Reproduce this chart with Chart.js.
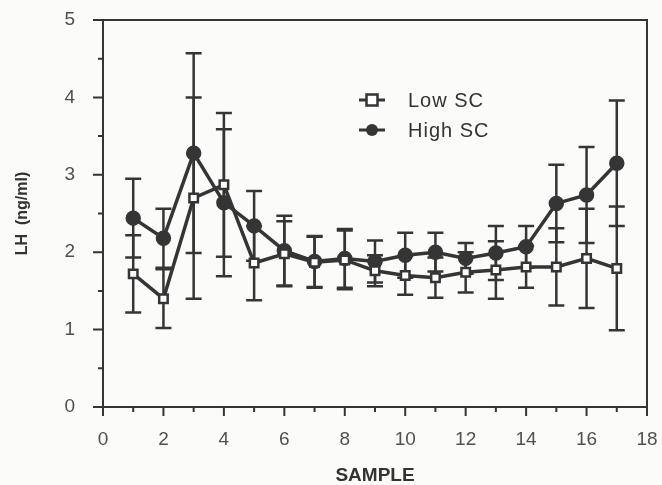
<!DOCTYPE html>
<html>
<head>
<meta charset="utf-8">
<script src="https://cdn.jsdelivr.net/npm/chart.js@4.4.1/dist/chart.umd.min.js"></script>
<style>
  html, body { margin: 0; padding: 0; background: #fbfbf9; }
  #wrap { width: 662px; height: 485px; }
</style>
</head>
<body>
<div id="wrap"><canvas id="lhChart" width="662" height="485"></canvas></div>
<script>
const samples = [1, 2, 3, 4, 5, 6, 7, 8, 9, 10, 11, 12, 13, 14, 15, 16, 17];

const lowSC = [1.72, 1.40, 2.70, 2.87, 1.86, 1.98, 1.87, 1.90, 1.76, 1.70, 1.67, 1.74, 1.77, 1.81, 1.81, 1.92, 1.79];
const lowErr = [0.50, 0.38, 1.30, 0.93, 0.48, 0.42, 0.33, 0.38, 0.20, 0.25, 0.26, 0.26, 0.37, 0.27, 0.50, 0.64, 0.80];

const highSC = [2.44, 2.18, 3.28, 2.64, 2.34, 2.02, 1.88, 1.92, 1.88, 1.96, 2.00, 1.92, 1.99, 2.07, 2.63, 2.74, 3.15];
const highErr = [0.51, 0.38, 1.29, 0.95, 0.45, 0.45, 0.33, 0.38, 0.27, 0.29, 0.25, 0.20, 0.35, 0.27, 0.50, 0.62, 0.81];

const xTicks = [0, 2, 4, 6, 8, 10, 12, 14, 16, 18];
const yTicks = [0, 1, 2, 3, 4, 5];

const ink = '#353535';
const font = "'Liberation Sans', Arial, sans-serif";

// error bars, drawn under the markers
const errorBars = {
    id: 'errorBars',
    beforeDatasetsDraw(chart) {
        const ctx = chart.ctx;
        const xs = chart.scales.x;
        const ys = chart.scales.y;
        const sets = [[lowSC, lowErr], [highSC, highErr]];
        ctx.save();
        ctx.strokeStyle = ink;
        ctx.lineWidth = 2.5;
        sets.forEach(([vals, errs]) => {
            vals.forEach((v, i) => {
                const px = xs.getPixelForValue(samples[i]);
                const top = ys.getPixelForValue(v + errs[i]);
                const bot = ys.getPixelForValue(v - errs[i]);
                ctx.beginPath();
                ctx.moveTo(px, top);
                ctx.lineTo(px, bot);
                ctx.moveTo(px - 8, top);
                ctx.lineTo(px + 8, top);
                ctx.moveTo(px - 8, bot);
                ctx.lineTo(px + 8, bot);
                ctx.stroke();
            });
        });
        ctx.restore();
    }
};

// frame, ticks and legend
const frame = {
    id: 'frame',
    afterDraw(chart) {
        const ctx = chart.ctx;
        const a = chart.chartArea;
        const xs = chart.scales.x;
        const ys = chart.scales.y;
        ctx.save();
        ctx.strokeStyle = ink;
        ctx.lineWidth = 2;
        ctx.strokeRect(a.left, a.top, a.right - a.left, a.bottom - a.top);

        ctx.beginPath();
        for (let v = 0; v <= 18; v++) {
            const px = xs.getPixelForValue(v);
            const len = v % 2 === 0 ? 9 : 5;
            ctx.moveTo(px, a.bottom);
            ctx.lineTo(px, a.bottom + len);
        }
        for (let v = 0; v <= 5; v += 0.5) {
            const py = ys.getPixelForValue(v);
            const len = v % 1 === 0 ? 10 : 5;
            ctx.moveTo(a.left - len, py);
            ctx.lineTo(a.left, py);
        }
        ctx.stroke();

        // legend
        const items = [
            { text: 'Low SC', style: 'rect', y: 100 },
            { text: 'High SC', style: 'circle', y: 130 }
        ];
        items.forEach(it => {
            const lx = 372;
            ctx.strokeStyle = ink;
            ctx.lineWidth = 3;
            ctx.beginPath();
            ctx.moveTo(lx - 13, it.y);
            ctx.lineTo(lx + 13, it.y);
            ctx.stroke();
            if (it.style === 'rect') {
                ctx.fillStyle = '#ffffff';
                ctx.lineWidth = 2.5;
                ctx.fillRect(lx - 5.5, it.y - 5.5, 11, 11);
                ctx.strokeRect(lx - 5.5, it.y - 5.5, 11, 11);
            } else {
                ctx.fillStyle = ink;
                ctx.beginPath();
                ctx.arc(lx, it.y, 6, 0, Math.PI * 2);
                ctx.fill();
            }
            ctx.fillStyle = '#333';
            ctx.font = '20px ' + font;
            ctx.letterSpacing = '1px';
            ctx.textBaseline = 'middle';
            ctx.fillText(it.text, 408, it.y + 1);
        });
        ctx.restore();
    }
};

new Chart(document.getElementById('lhChart'), {
    type: 'line',
    data: {
        datasets: [
            {
                label: 'Low SC',
                data: samples.map((s, i) => ({ x: s, y: lowSC[i] })),
                borderColor: ink,
                borderWidth: 3.5,
                pointStyle: 'rect',
                pointRadius: 6,
                pointBorderWidth: 2.5,
                pointBackgroundColor: '#ffffff',
                pointBorderColor: ink,
                tension: 0
            },
            {
                label: 'High SC',
                data: samples.map((s, i) => ({ x: s, y: highSC[i] })),
                borderColor: ink,
                borderWidth: 3.5,
                pointStyle: 'circle',
                pointRadius: 6,
                pointBackgroundColor: ink,
                pointBorderColor: ink,
                tension: 0
            }
        ]
    },
    options: {
        responsive: false,
        animation: false,
        layout: { padding: { top: 20, right: 15, left: 0, bottom: 0 } },
        plugins: {
            legend: { display: false },
            tooltip: { enabled: false }
        },
        scales: {
            x: {
                type: 'linear',
                min: 0,
                max: 18,
                afterBuildTicks: (s) => { s.ticks = xTicks.map(v => ({ value: v })); },
                afterFit: (s) => {
                    s.height = 78;
                    s.paddingLeft = 0;
                    s.paddingRight = 0;
                },
                grid: { display: false },
                border: { display: false },
                ticks: {
                    color: '#505050',
                    padding: 13,
                    font: { family: font, size: 19 }
                },
                title: {
                    display: true,
                    text: 'SAMPLE',
                    color: '#333',
                    font: { family: font, size: 19, weight: 'bold' },
                    padding: { top: 0, bottom: -2 }
                }
            },
            y: {
                min: 0,
                max: 5,
                afterBuildTicks: (s) => { s.ticks = yTicks.map(v => ({ value: v })); },
                afterFit: (s) => {
                    s.width = 103;
                    s.paddingTop = 0;
                    s.paddingBottom = 0;
                },
                grid: { display: false },
                border: { display: false },
                ticks: {
                    color: '#505050',
                    padding: 20,
                    font: { family: font, size: 19 }
                },
                title: {
                    display: true,
                    text: 'LH  (ng/ml)',
                    color: '#333',
                    font: { family: font, size: 16, weight: 'bold' },
                    padding: { top: 13 }
                }
            }
        }
    },
    plugins: [errorBars, frame]
});
</script>
</body>
</html>
